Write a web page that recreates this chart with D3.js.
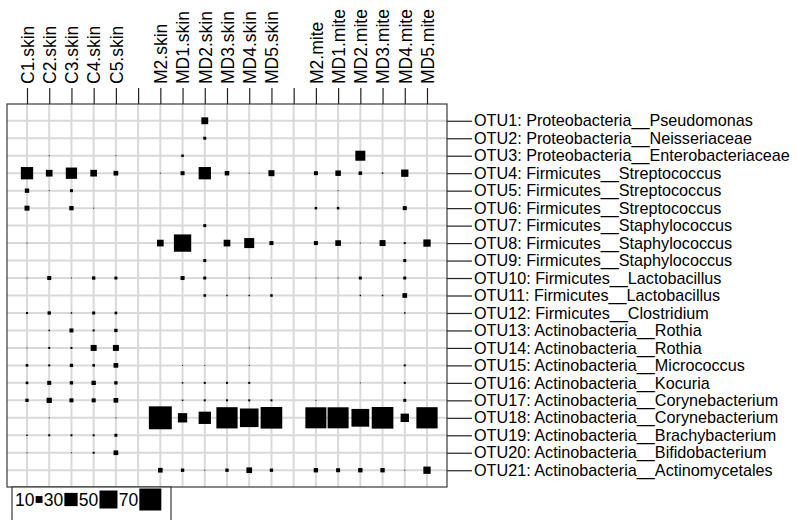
<!DOCTYPE html>
<html>
<head>
<meta charset="utf-8">
<script src="https://cdn.jsdelivr.net/npm/d3@7"></script>
<style>
  html, body { margin: 0; padding: 0; background: #ffffff; }
  svg { display: block; font-family: "Liberation Sans", Arial, sans-serif; }
</style>
</head>
<body>
<svg id="chart" width="797" height="520"></svg>
<script>
// ---- data ----
const columnSlots = ["C1.skin","C2.skin","C3.skin","C4.skin","C5.skin","gap1",
  "M2.skin","MD1.skin","MD2.skin","MD3.skin","MD4.skin","MD5.skin","gap2",
  "M2.mite","MD1.mite","MD2.mite","MD3.mite","MD4.mite","MD5.mite"];

const samples = ["C1.skin","C2.skin","C3.skin","C4.skin","C5.skin",
  "M2.skin","MD1.skin","MD2.skin","MD3.skin","MD4.skin","MD5.skin",
  "M2.mite","MD1.mite","MD2.mite","MD3.mite","MD4.mite","MD5.mite"];

const otuLabels = [
  "OTU1: Proteobacteria__Pseudomonas",
  "OTU2: Proteobacteria__Neisseriaceae",
  "OTU3: Proteobacteria__Enterobacteriaceae",
  "OTU4: Firmicutes__Streptococcus",
  "OTU5: Firmicutes__Streptococcus",
  "OTU6: Firmicutes__Streptococcus",
  "OTU7: Firmicutes__Staphylococcus",
  "OTU8: Firmicutes__Staphylococcus",
  "OTU9: Firmicutes__Staphylococcus",
  "OTU10: Firmicutes__Lactobacillus",
  "OTU11: Firmicutes__Lactobacillus",
  "OTU12: Firmicutes__Clostridium",
  "OTU13: Actinobacteria__Rothia",
  "OTU14: Actinobacteria__Rothia",
  "OTU15: Actinobacteria__Micrococcus",
  "OTU16: Actinobacteria__Kocuria",
  "OTU17: Actinobacteria__Corynebacterium",
  "OTU18: Actinobacteria__Corynebacterium",
  "OTU19: Actinobacteria__Brachybacterium",
  "OTU20: Actinobacteria__Bifidobacterium",
  "OTU21: Actinobacteria__Actinomycetales"
];

// rows = OTUs, columns = samples (same order as `samples`)
const abundance = [
  [0,0,0,0,0,        0,0,10,0,0,0,          0,0,0,0,0,0],
  [0,0,0,0,0,        0,0,2.5,0,0,0,         0,0,0,0,0,0],
  [0,0.4,0,0,0.4,    0,1.9,0,0,0,0,         0,0,18.8,0,0,0],
  [26.6,9.6,23,9.6,5.3, 0.4,4.1,26.6,5,0.4,8, 4.1,6.9,3.3,0.8,11.1,0],
  [4.7,0.4,2.5,0,0,  0,0,0,0,0,0,           0,0.4,0,0,0,0],
  [5.9,0,4.7,0.4,0,  0,0,0,0,0,0,           1.9,1.9,0,0,4.1,0],
  [0,0,0,0,0,        0,0,2.5,0,0,0,         0,0,0,0,0,0],
  [0.4,0,0,0,0,      9.6,47,0,9.6,18.8,4.1, 4.1,7.3,0.4,8,1.3,11.1],
  [0,0,0,0,0,        0,0,2.5,0,0,0,         0,0,0,0,2.5,0],
  [0.4,4.1,0.4,3,2.5, 0,4.1,2.5,0,0.4,0.4,  0.4,0.4,2.5,0,2.5,0],
  [0,0,0,0,0,        0,0,1.9,0.8,0.8,1.9,   0,0,0.8,0.8,5.3,0],
  [1.3,3,0.8,2.5,2,  0,0,0,0,0,0,           0,0,0,0,0.8,0],
  [0,0.8,4.1,1.3,3,  0,0,0,0,0,0,           0,0,0,0,0,0],
  [0.4,1.3,1.3,8,8,  0,0,0,0,0.4,0,         0,0,0,0,0,0],
  [2,1.3,3,2,5.3,    0,0.4,0.4,0,0.4,0,     0,0,0,0,1.3,0],
  [2,4.1,3,4.7,3,    0,0.8,1.3,1.3,1.3,0,   0,0,0.4,0,1.3,0],
  [3,6.4,4.1,4.1,5.3, 0,0.8,1.3,1.3,1.3,1.3, 0.4,0,0,0,2.5,0],
  [0,0.4,0,0,0.4,    75,16.7,26.6,66,53,68, 65,65,49,68,14,66],
  [0.8,1.3,1.3,1.3,2.5, 0,0,0,0,0,0,        0,0,0,0,0,0],
  [0.4,0,0.4,1.3,5.3, 0,0,0,0,0,0,          0,0,0,0,0,0],
  [0,0,0,0,0,        5.3,3,0.4,3,7.3,3,     4.7,4.1,4.7,4.7,0.4,11.1]
];

const legendValues = [10, 30, 50, 70];

// ---- layout ----
const svg = d3.select("#chart");
const frame = { left: 7, top: 104, right: 447, bottom: 487 };

const x = d3.scalePoint().domain(columnSlots)
  .range([frame.left, frame.right]).padding(0.9);
const y = d3.scalePoint().domain(otuLabels)
  .range([frame.top, frame.bottom]).padding(0.96);
const size = d3.scalePow().exponent(0.6).domain([0, 70]).range([0, 22]);

// grid
const grid = svg.append("g").attr("stroke", "#d9d9d9").attr("stroke-width", 2);
grid.selectAll("line.v").data(columnSlots).join("line")
  .attr("class", "v")
  .attr("x1", d => x(d)).attr("x2", d => x(d))
  .attr("y1", frame.top).attr("y2", frame.bottom);
grid.selectAll("line.h").data(otuLabels).join("line")
  .attr("class", "h")
  .attr("x1", frame.left).attr("x2", frame.right)
  .attr("y1", d => y(d)).attr("y2", d => y(d));

// squares
const cells = [];
abundance.forEach((row, i) => row.forEach((v, j) => {
  if (v > 0) cells.push({ otu: otuLabels[i], sample: samples[j], value: v });
}));
svg.append("g").selectAll("rect").data(cells).join("rect")
  .attr("x", d => x(d.sample) - size(d.value) / 2)
  .attr("y", d => y(d.otu) - size(d.value) / 2)
  .attr("width", d => size(d.value))
  .attr("height", d => size(d.value))
  .attr("fill", "#000");

// frame
svg.append("rect")
  .attr("x", frame.left).attr("y", frame.top)
  .attr("width", frame.right - frame.left).attr("height", frame.bottom - frame.top)
  .attr("fill", "none").attr("stroke", "#3a3a3a").attr("stroke-width", 1.2);

// top axis
const topAxis = svg.append("g")
  .attr("transform", `translate(0,${frame.top})`)
  .call(d3.axisTop(x).tickSize(16).tickFormat(d => d.startsWith("gap") ? "" : d));
topAxis.select(".domain").remove();
topAxis.selectAll("line").attr("stroke", "#222").attr("stroke-width", 1.2);
topAxis.selectAll("text")
  .attr("transform", "rotate(-90)")
  .attr("x", 20).attr("y", 0).attr("dy", "0.36em")
  .attr("text-anchor", "start")
  .attr("fill", "#000")
  .style("font-size", "17.5px")
  .style("font-family", "'Liberation Sans', Arial, sans-serif");

// right axis
const rightAxis = svg.append("g")
  .attr("transform", `translate(${frame.right},0)`)
  .call(d3.axisRight(y).tickSize(25).tickPadding(2));
rightAxis.select(".domain").remove();
rightAxis.selectAll("line").attr("stroke", "#222").attr("stroke-width", 1.2);
rightAxis.selectAll("text")
  .attr("fill", "#000")
  .style("font-size", "16.2px")
  .style("font-family", "'Liberation Sans', Arial, sans-serif");

// legend
const legend = svg.append("g");
legend.append("rect")
  .attr("x", 12).attr("y", frame.bottom)
  .attr("width", 159).attr("height", 50)
  .attr("fill", "#fff").attr("stroke", "#3a3a3a").attr("stroke-width", 1.2);
let cursor = 15;
const legendCy = 499.5;
legendValues.forEach(v => {
  const t = legend.append("text")
    .attr("x", cursor).attr("y", legendCy).attr("dy", "0.36em")
    .style("font-size", "17.5px")
    .attr("fill", "#000")
    .text(v);
  const w = t.node().getComputedTextLength();
  cursor += w + 1.2;
  const s = size(v);
  legend.append("rect")
    .attr("x", cursor).attr("y", legendCy - s / 2)
    .attr("width", s).attr("height", s)
    .attr("fill", "#000");
  cursor += s + 1.2;
});
</script>
</body>
</html>
